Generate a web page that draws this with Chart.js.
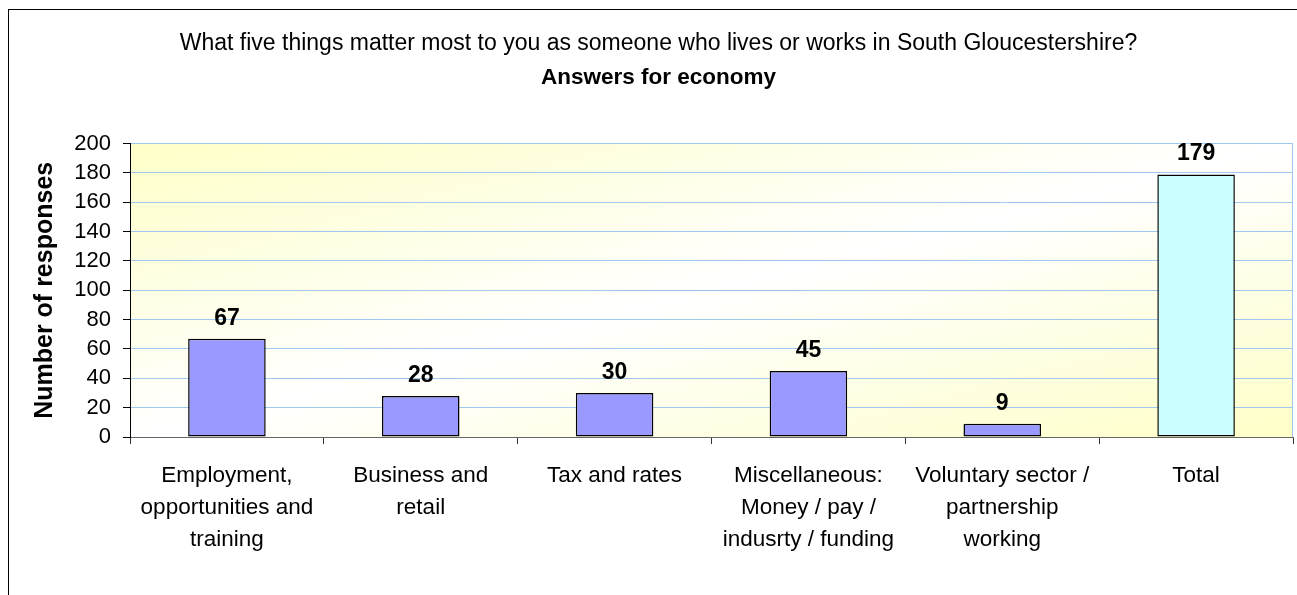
<!DOCTYPE html>
<html>
<head>
<meta charset="utf-8">
<script src="https://cdn.jsdelivr.net/npm/chart.js@4/dist/chart.umd.min.js"></script>
<style>
  html, body { margin: 0; padding: 0; background: #fff; overflow: hidden; }
  #wrap { width: 1297px; height: 595px; }
</style>
</head>
<body>
<div id="wrap"><canvas id="chart" width="1297" height="595"></canvas></div>
<script>
// Chart data
const categories = [
    ['Employment,', 'opportunities and', 'training'],
    ['Business and', 'retail'],
    ['Tax and rates'],
    ['Miscellaneous:', 'Money / pay /', 'indusrty / funding'],
    ['Voluntary sector /', 'partnership', 'working'],
    ['Total']
];
const responses = [67, 28, 30, 45, 9, 179];
const barColors = ['#9999ff', '#9999ff', '#9999ff', '#9999ff', '#9999ff', '#ccffff'];
const yTicks = [0, 20, 40, 60, 80, 100, 120, 140, 160, 180, 200];

const FONT = "'Liberation Sans', Arial, sans-serif";

// Plot background (diagonal yellow/white gradient) + frame
const plotBackground = {
    id: 'plotBackground',
    beforeDraw(chart) {
        const ctx = chart.ctx;
        const a = chart.chartArea;
        const w = a.right - a.left, h = a.bottom - a.top;
        const k = 2 * w * h / (w * w + h * h);
        ctx.save();
        // outer border of the chart object
        ctx.strokeStyle = '#000';
        ctx.lineWidth = 1;
        ctx.strokeRect(8.5, 9.5, 1400, 700);

        const g = ctx.createLinearGradient(a.left, a.top, a.left + k * h, a.top + k * w);
        g.addColorStop(0, '#ffffc8');
        g.addColorStop(0.5, '#ffffff');
        g.addColorStop(1, '#ffffc8');
        ctx.fillStyle = g;
        ctx.fillRect(a.left, a.top, w, h);
        ctx.strokeStyle = '#a0c8f0';
        ctx.beginPath();
        ctx.moveTo(Math.round(a.right) - 0.5, a.top);
        ctx.lineTo(Math.round(a.right) - 0.5, a.bottom);
        ctx.stroke();
        ctx.restore();
    }
};

// Value labels above bars
const valueLabels = {
    id: 'valueLabels',
    afterDatasetsDraw(chart) {
        const ctx = chart.ctx;
        const meta = chart.getDatasetMeta(0);
        ctx.save();
        ctx.font = 'bold 23px ' + FONT;
        ctx.fillStyle = '#000';
        ctx.textAlign = 'center';
        ctx.textBaseline = 'alphabetic';
        meta.data.forEach((bar, i) => {
            ctx.fillText(String(responses[i]), bar.x, bar.y - 14);
        });
        ctx.restore();
    }
};

new Chart(document.getElementById('chart'), {
    type: 'bar',
    data: {
        labels: categories,
        datasets: [{
            data: responses,
            backgroundColor: barColors,
            borderColor: '#000',
            borderWidth: 1.5,
            borderSkipped: false,
            categoryPercentage: 1,
            barPercentage: 0.4
        }]
    },
    options: {
        responsive: false,
        animation: false,
        layout: { padding: { left: 24, right: 4, top: 0, bottom: 0 } },
        plugins: {
            legend: { display: false },
            tooltip: { enabled: false },
            title: {
                display: true,
                text: 'What five things matter most to you as someone who lives or works in South Gloucestershire?',
                color: '#000',
                font: { family: FONT, size: 23, weight: 'normal', lineHeight: 1.2 },
                padding: { top: 30, bottom: 0 }
            },
            subtitle: {
                display: true,
                text: 'Answers for economy',
                color: '#000',
                font: { family: FONT, size: 22.5, weight: 'bold', lineHeight: 1.2 },
                padding: { top: 7, bottom: 52 }
            }
        },
        scales: {
            x: {
                grid: {
                    offset: true,
                    drawOnChartArea: false,
                    tickLength: 7,
                    tickColor: '#333'
                },
                border: { display: true, color: '#666', width: 1 },
                ticks: {
                    color: '#000',
                    padding: 16,
                    maxRotation: 0,
                    autoSkip: false,
                    font: { family: FONT, size: 22.5, lineHeight: 1.41 }
                },
                afterFit(scale) { scale.height = 158; }
            },
            y: {
                min: 0,
                max: 200,
                afterBuildTicks(scale) { scale.ticks = yTicks.map(v => ({ value: v })); },
                grid: {
                    color: '#a0c8f0',
                    tickColor: '#000',
                    tickLength: 7
                },
                border: { display: true, color: '#000', width: 1 },
                ticks: {
                    color: '#000',
                    padding: 12,
                    autoSkip: false,
                    font: { family: FONT, size: 22 }
                },
                title: {
                    display: true,
                    text: 'Number of responses',
                    color: '#000',
                    font: { family: FONT, size: 25, weight: 'bold' },
                    padding: { top: 6, bottom: 0 }
                },
                afterFit(scale) { scale.width = 106; }
            }
        }
    },
    plugins: [plotBackground, valueLabels]
});
</script>
</body>
</html>
